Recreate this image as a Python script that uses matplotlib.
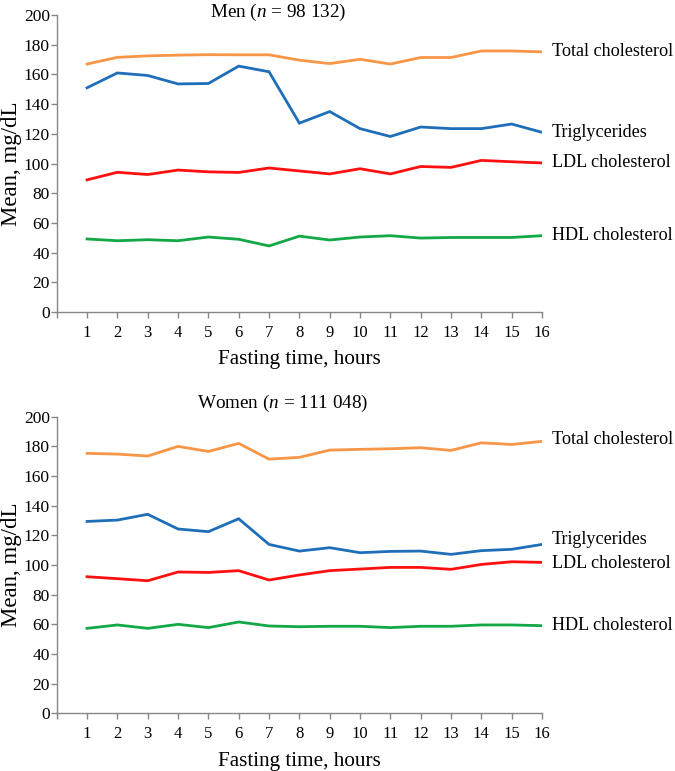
import matplotlib
matplotlib.use("Agg")
import matplotlib.pyplot as plt

plt.rcParams['font.family'] = ['Liberation Serif', 'DejaVu Serif']
plt.rcParams['mathtext.fontset'] = 'custom'
plt.rcParams['mathtext.it'] = 'Liberation Serif:italic'
plt.rcParams['mathtext.rm'] = 'Liberation Serif'

hours = list(range(1, 17))

# Men (n = 98 132)
men_total = [167, 171.5, 172.5, 173, 173.3, 173.2, 173.2, 169.6, 167.3, 170.2, 167, 171.4, 171.4, 175.8, 175.8, 175.2]
men_trig = [151, 161, 159.3, 153.6, 153.9, 165.6, 161.8, 127.2, 135, 123.5, 118.2, 124.6, 123.5, 123.5, 126.6, 121]
men_ldl = [89, 94.1, 92.6, 95.6, 94.4, 94, 97, 95, 93, 96.5, 93, 98, 97.4, 102.1, 101.2, 100.4]
men_hdl = [49.2, 48, 48.7, 48, 50.5, 49, 44.5, 51.1, 48.5, 50.5, 51.4, 49.8, 50.2, 50.2, 50.2, 51.4]

# Women (n = 111 048)
women_total = [175.3, 174.8, 173.5, 180, 176.6, 182, 171.4, 172.6, 177.5, 178, 178.4, 179.1, 177.3, 182.4, 181.3, 183.4]
women_trig = [129.4, 130.3, 134.2, 124.3, 122.5, 131.2, 113.9, 109.4, 111.7, 108.3, 109.2, 109.4, 107.2, 109.7, 110.6, 113.9]
women_ldl = [92.1, 90.8, 89.4, 95.3, 95, 96.2, 89.9, 93.3, 96.2, 97.3, 98.4, 98.4, 97.1, 100.4, 102.2, 101.8]
women_hdl = [57.3, 59.6, 57.3, 60, 57.8, 61.6, 58.9, 58.4, 58.7, 58.7, 57.8, 58.7, 58.7, 59.6, 59.6, 59.1]

names = ["Total cholesterol", "Triglycerides", "LDL cholesterol", "HDL cholesterol"]
colors = ["#F79646", "#1F6EB8", "#FF1010", "#12A846"]

panels = [
    ("Men", "98 132", [men_total, men_trig, men_ldl, men_hdl], [0, 0, 0, 0], [0.084, 0.5953, 0.719, 0.3852], 0.456, 1.008),
    ("Women", "111 048", [women_total, women_trig, women_ldl, women_hdl], [1, 3, -0.5, 0], [0.084, 0.0748, 0.719, 0.3847], 0.465, 1.046),
]

fig = plt.figure(figsize=(6.75, 7.71), dpi=100)
grey = "#868686"

for title, n, series, lab_off, rect, tx, ty in panels:
    ax = fig.add_axes(rect)
    for vals, name, c, off in zip(series, names, colors, lab_off):
        ax.plot(hours, vals, color=c, lw=2.0, solid_joinstyle='miter')
        ax.annotate(name, xy=(hours[-1], vals[-1] + off), xytext=(7, 0),
                    textcoords='offset points', va='center', ha='left',
                    fontsize=13.1, annotation_clip=False)
    ax.set_xlim(0, 16)
    ax.set_ylim(0, 200)
    ax.set_yticks(range(0, 201, 20))
    ax.set_xticks(range(0, 17))
    ax.set_xticklabels([""] + [str(h) for h in hours])
    for s in ["top", "right"]:
        ax.spines[s].set_visible(False)
    for s in ["left", "bottom"]:
        ax.spines[s].set_color(grey)
        ax.spines[s].set_linewidth(1.0)
    ax.tick_params(axis='both', colors=grey, labelcolor='black', width=1.0, length=4)
    ax.tick_params(axis='x', pad=5, labelsize=12)
    ax.tick_params(axis='y', pad=1, labelsize=12.5)
    ax.set_ylabel("Mean, mg/dL", fontsize=16.5, labelpad=1)
    ax.set_xlabel("Fasting time, hours", fontsize=15.2, labelpad=7)
    ax.text(tx, ty, title + " ($\\mathit{n}$ = " + n + ")", transform=ax.transAxes,
            ha='center', va='center', fontsize=13.8)

fig.savefig("out.png", dpi=100)
